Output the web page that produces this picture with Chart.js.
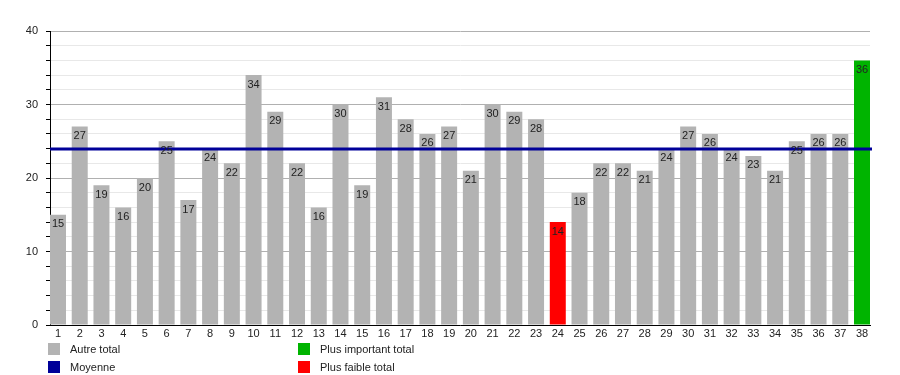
<!DOCTYPE html>
<html>
<head>
<meta charset="utf-8">
<script src="https://cdn.jsdelivr.net/npm/chart.js@4"></script>
<style>
  body { margin: 0; background: #fff; font-family: "Liberation Sans", Arial, sans-serif; }
  #wrap { position: relative; width: 900px; height: 375px; }
  .legend-item { position: absolute; font-size: 11px; color: #222; line-height: 12px; }
  .legend-item span { position: absolute; left: 0; top: 0; width: 12px; height: 12px; }
  .legend-item b { position: absolute; left: 22px; top: 0; font-weight: normal; white-space: nowrap; }
</style>
</head>
<body>
<div id="wrap">
  <canvas id="chart" width="900" height="375"></canvas>
  <div class="legend-item" style="left:48px;top:343px"><span style="background:#b3b3b3"></span><b>Autre total</b></div>
  <div class="legend-item" style="left:48px;top:361px"><span style="background:#000099"></span><b>Moyenne</b></div>
  <div class="legend-item" style="left:298px;top:343px"><span style="background:#00b400"></span><b>Plus important total</b></div>
  <div class="legend-item" style="left:298px;top:361px"><span style="background:#ff0000"></span><b>Plus faible total</b></div>
</div>
<script>
const labels = ["1","2","3","4","5","6","7","8","9","10","11","12","13","14","15","16","17","18","19",
  "20","21","22","23","24","25","26","27","28","29","30","31","32","33","34","35","36","37","38"];
const totals = [15, 27, 19, 16, 20, 25, 17, 24, 22, 34, 29, 22, 16, 30, 19, 31, 28, 26, 27,
  21, 30, 29, 28, 14, 18, 22, 22, 21, 24, 27, 26, 24, 23, 21, 25, 26, 26, 36];

const GREY = "#b3b3b3";
const HIGH = "#00b400";
const LOW = "#ff0000";
const MEAN_COLOR = "#000099";

const maxValue = Math.max(...totals);
const minValue = Math.min(...totals);
const mean = totals.reduce((a, b) => a + b, 0) / totals.length;

const barColors = totals.map((v) => (v === maxValue ? HIGH : v === minValue ? LOW : GREY));
const points = totals.map((y, i) => ({ x: i, y }));

// bars sit flush against both ends of the axis, so pad the index range by ~a third of a slot
const EDGE = 0.368;

const meanLine = {
  id: "meanLine",
  afterDatasetsDraw(chart) {
    const { ctx, chartArea, scales } = chart;
    const y = scales.y.getPixelForValue(mean);
    ctx.save();
    ctx.strokeStyle = MEAN_COLOR;
    ctx.lineWidth = 3;
    ctx.beginPath();
    ctx.moveTo(chartArea.left, y);
    ctx.lineTo(chartArea.right + 2, y);
    ctx.stroke();
    ctx.restore();
  },
};

const barLabels = {
  id: "barLabels",
  afterDraw(chart) {
    const { ctx } = chart;
    const meta = chart.getDatasetMeta(0);
    ctx.save();
    ctx.font = "11px 'Liberation Sans', Arial, sans-serif";
    ctx.fillStyle = "#222";
    ctx.textAlign = "center";
    ctx.textBaseline = "top";
    meta.data.forEach((bar, i) => {
      ctx.fillText(String(totals[i]), bar.x, bar.y + 4);
    });
    ctx.restore();
  },
};

new Chart(document.querySelector("#chart"), {
  type: "bar",
  data: {
    datasets: [{ data: points, backgroundColor: barColors, barPercentage: 0.736, categoryPercentage: 1 }],
  },
  options: {
    responsive: false,
    animation: false,
    layout: { padding: { top: 31, right: 30, bottom: 34, left: 0 } },
    plugins: { legend: { display: false }, tooltip: { enabled: false } },
    scales: {
      x: {
        type: "linear",
        offset: false,
        min: -EDGE,
        max: labels.length - 1 + EDGE,
        grid: { display: false, drawTicks: false },
        border: { color: "#000", width: 1 },
        afterBuildTicks: (scale) => {
          scale.ticks = labels.map((_, i) => ({ value: i }));
        },
        ticks: {
          color: "#222",
          font: { size: 11, family: "'Liberation Sans', Arial" },
          padding: 2,
          maxRotation: 0,
          autoSkip: false,
          callback: (v) => labels[v] ?? "",
        },
        afterFit: (scale) => { scale.height = 16; },
      },
      y: {
        min: 0,
        max: 40,
        border: { color: "#000", width: 1 },
        grid: {
          color: (c) => (c.tick.value % 10 === 0 ? "#b0b0b0" : "#e8e8e8"),
          tickColor: "#000",
          tickLength: 4,
        },
        ticks: {
          stepSize: 2,
          autoSkip: false,
          color: "#222",
          padding: 8,
          font: { size: 11, family: "'Liberation Sans', Arial" },
          callback: (v) => (v % 10 === 0 ? v : ""),
        },
        afterFit: (scale) => { scale.width = 50; },
      },
    },
  },
  plugins: [meanLine, barLabels],
});
</script>
</body>
</html>
